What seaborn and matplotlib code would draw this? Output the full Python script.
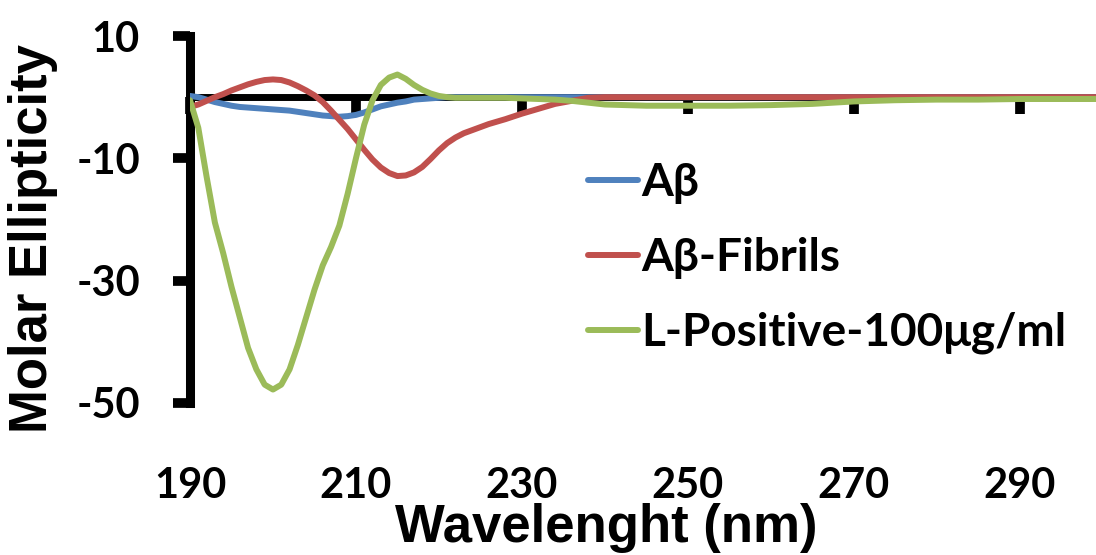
import matplotlib
matplotlib.use("Agg")
import matplotlib.pyplot as plt
from matplotlib.lines import Line2D
import pandas as pd
import seaborn as sns

# CD spectra: wavelength (nm) and molar ellipticity for each sample
wavelength = [190, 191, 192, 193, 194, 195, 196, 197, 198, 199, 200, 201, 202, 203, 204,
              205, 206, 207, 208, 209, 210, 211, 212, 213, 214, 215, 216, 217, 218, 219,
              220, 221, 222, 223, 224, 226, 228, 230, 232, 234, 236, 238, 240,
              245, 250, 255, 260, 265, 270, 275, 280, 285, 290, 295, 300]

abeta = [0.2, 0.0, -0.4, -0.8, -1.1, -1.4, -1.6, -1.7, -1.8, -1.9, -2.0, -2.1, -2.2, -2.4, -2.6,
         -2.8, -3.0, -3.1, -3.2, -3.1, -2.9, -2.5, -2.0, -1.5, -1.2, -0.9, -0.7, -0.4, -0.3, -0.2,
         -0.1, 0.0, 0.0, 0.0, 0.0, 0.0, 0.0, 0.0, 0.0, 0.0, 0.0, 0.0, 0.0,
         0.0, 0.0, 0.0, 0.0, 0.0, 0.0, 0.0, 0.0, 0.0, 0.0, 0.0, 0.0]

abeta_fibrils = [-1.6, -1.2, -0.6, 0.0, 0.5, 1.1, 1.6, 2.1, 2.5, 2.8, 2.9, 2.8, 2.4, 1.8, 1.1,
                 0.3, -0.8, -2.2, -3.7, -5.2, -6.9, -8.6, -10.2, -11.5, -12.4, -12.9, -12.8, -12.3, -11.4, -10.1,
                 -8.7, -7.5, -6.6, -5.9, -5.4, -4.4, -3.6, -2.7, -1.9, -1.1, -0.6, -0.1, 0.0,
                 0.0, 0.0, 0.0, 0.0, 0.0, 0.0, 0.0, 0.0, 0.0, 0.0, 0.0, 0.0]

l_positive = [-0.5, -5.0, -13.0, -20.5, -25.5, -31.0, -36.0, -41.0, -44.5, -47.0, -47.8, -47.0, -44.5, -40.5, -36.0,
              -31.5, -27.5, -24.5, -21.0, -15.8, -10.0, -4.5, -0.5, 2.0, 3.2, 3.7, 3.0, 2.0, 1.2, 0.6,
              0.2, 0.0, -0.1, -0.1, -0.1, -0.1, -0.1, -0.2, -0.3, -0.4, -0.6, -0.9, -1.2,
              -1.4, -1.4, -1.4, -1.3, -1.1, -0.7, -0.5, -0.4, -0.4, -0.3, -0.3, -0.3]

series_names = ["Aβ", "Aβ-Fibrils", "L-Positive-100μg/ml"]
series_colors = ["#4F81BD", "#C0504D", "#9BBB59"]

x_ticks = [190, 210, 230, 250, 270, 290]
y_ticks = [10, -10, -30, -50]

df = pd.concat([
    pd.DataFrame({"wavelength": wavelength, "ellipticity": vals, "sample": name})
    for name, vals in zip(series_names, [abeta, abeta_fibrils, l_positive])
], ignore_index=True)

sns.set_style("white")
plt.rcParams["font.family"] = ["Lato", "DejaVu Sans"]
plt.rcParams["font.weight"] = "bold"
plt.rcParams["axes.unicode_minus"] = False
plt.rcParams["text.color"] = "black"
plt.rcParams["xtick.labelcolor"] = "black"
plt.rcParams["ytick.labelcolor"] = "black"

W, H = 1096, 555
fig = plt.figure(figsize=(W / 100, H / 100), dpi=100)
ax = fig.add_axes([190 / W, 1 - 403 / H, (W - 190) / W, (403 - 36) / H])

# zero baseline drawn under the spectra
ax.spines["bottom"].set_position(("data", 0))
ax.spines["bottom"].set_linewidth(5)
ax.spines["bottom"].set_zorder(1)
ax.spines["left"].set_linewidth(6.5)
ax.spines["top"].set_visible(False)
ax.spines["right"].set_visible(False)
for s in ("bottom", "left"):
    ax.spines[s].set_color("black")

sns.lineplot(data=df, x="wavelength", y="ellipticity", hue="sample",
             hue_order=series_names, palette=series_colors, estimator=None,
             sort=False, linewidth=4.3, legend=False, ax=ax, zorder=3)

ax.set_xlim(190, 299.2)
ax.set_ylim(-50, 10)
ax.set_xticks(x_ticks)
ax.set_yticks(y_ticks)
ax.set_xticklabels([])
ax.tick_params(axis="x", bottom=True, direction="out", length=12, width=7, color="black")
ax.tick_params(axis="y", left=True, direction="out", length=12, width=7, color="black",
               labelsize=30, labelcolor="black", pad=24)
for lab in ax.get_yticklabels():
    lab.set_fontweight("bold")
ax.set_xlabel("")
ax.set_ylabel("")

# wavelength labels sit below the plotting area
sec = ax.secondary_xaxis(-0.175)
sec.set_xticks(x_ticks)
sec.set_xticklabels([str(t) for t in x_ticks], fontsize=30, fontweight="bold", color="black")
sec.tick_params(length=0, pad=0)
sec.spines["bottom"].set_visible(False)

label_font = dict(family=["Liberation Sans", "DejaVu Sans"], fontsize=38,
                  fontweight="bold", color="black")
fig.text(606 / W, 1 - 542 / H, "Wavelenght (nm)", ha="center", va="baseline", **label_font)
fig.text(33 / W, 1 - 238 / H, "Molar Ellipticity", ha="center", va="center",
         rotation=90, **label_font)

handles = [Line2D([0], [0], color=c, linewidth=4.3, solid_capstyle="round") for c in series_colors]
leg = ax.legend(handles, series_names, loc="upper left",
                bbox_to_anchor=(588 / W, 1 - 162 / H), bbox_transform=fig.transFigure,
                frameon=False, fontsize=33, handlelength=1.1, handletextpad=0.07,
                labelspacing=0.72, borderpad=0, borderaxespad=0)
for t in leg.get_texts():
    t.set_fontweight("bold")
    t.set_color("black")

fig.savefig("out.png", dpi=100)
